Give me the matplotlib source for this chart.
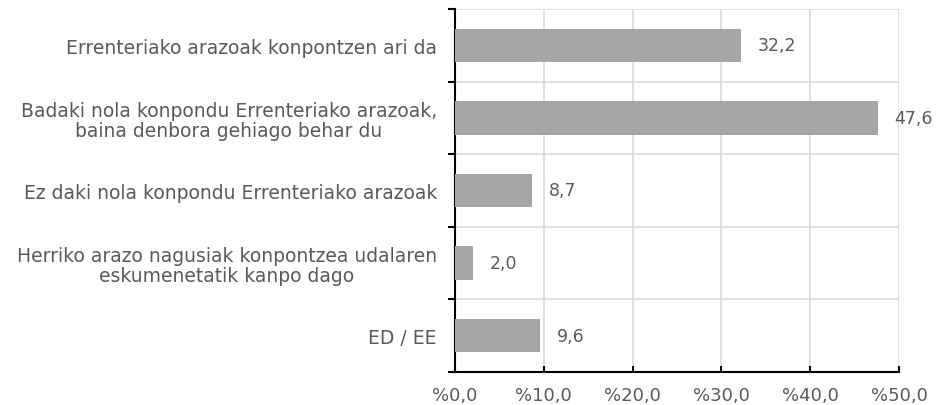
import matplotlib

matplotlib.use("Agg")

import matplotlib.pyplot as plt
import numpy as np

CATEGORIES = [
    "Errenteriako arazoak konpontzen ari da",
    "Badaki nola konpondu Errenteriako arazoak,\nbaina denbora gehiago behar du",
    "Ez daki nola konpondu Errenteriako arazoak",
    "Herriko arazo nagusiak konpontzea udalaren\neskumenetatik kanpo dago",
    "ED / EE",
]
VALUES = [32.2, 47.6, 8.7, 2.0, 9.6]
XTICKS = [0, 10, 20, 30, 40, 50]
XTICK_LABELS = ["%0,0", "%10,0", "%20,0", "%30,0", "%40,0", "%50,0"]

TEXT = "#595959"
GRID = "#d9d9d9"
BAR = "#a6a6a6"


def main():
    fig = plt.figure(figsize=(9.4, 4.06), dpi=100)
    ax = fig.add_axes([455 / 940, 1 - 373 / 406, 444 / 940, 363 / 406])

    n = len(CATEGORIES)
    y = np.arange(n)
    ax.barh(y, VALUES, height=0.46, color=BAR, zorder=3)

    for yi, v in zip(y, VALUES):
        ax.annotate(f"{v:.1f}".replace(".", ","), (v, yi), xytext=(12, 0),
                    textcoords="offset points", va="center", ha="left",
                    fontsize=12.5, color=TEXT)

    ax.set_xlim(0, 50)
    ax.set_ylim(n - 0.5, -0.5)
    ax.set_xticks(XTICKS)
    ax.set_xticklabels(XTICK_LABELS, fontsize=13, color=TEXT)
    ax.set_yticks(y)
    ax.set_yticklabels(CATEGORIES, fontsize=13.5, color=TEXT, ha="right",
                       multialignment="center", linespacing=1.05)
    ax.tick_params(axis="y", length=0, pad=13)
    ax.set_yticks(np.arange(n + 1) - 0.5, minor=True)
    ax.tick_params(axis="y", which="minor", length=5, width=1.5, color="black")
    ax.tick_params(axis="x", length=4, width=1.5, direction="in", color="black", pad=10)

    ax.grid(True, axis="x", color=GRID, linewidth=1.2, zorder=0)
    ax.grid(True, axis="y", which="minor", color=GRID, linewidth=1.2, zorder=0)
    ax.grid(False, axis="y", which="major")

    for s in ("top", "right"):
        ax.spines[s].set_visible(False)
    for s in ("left", "bottom"):
        ax.spines[s].set_linewidth(1.5)
        ax.spines[s].set_color("black")

    fig.savefig("out.png", dpi=100)


if __name__ == "__main__":
    main()
